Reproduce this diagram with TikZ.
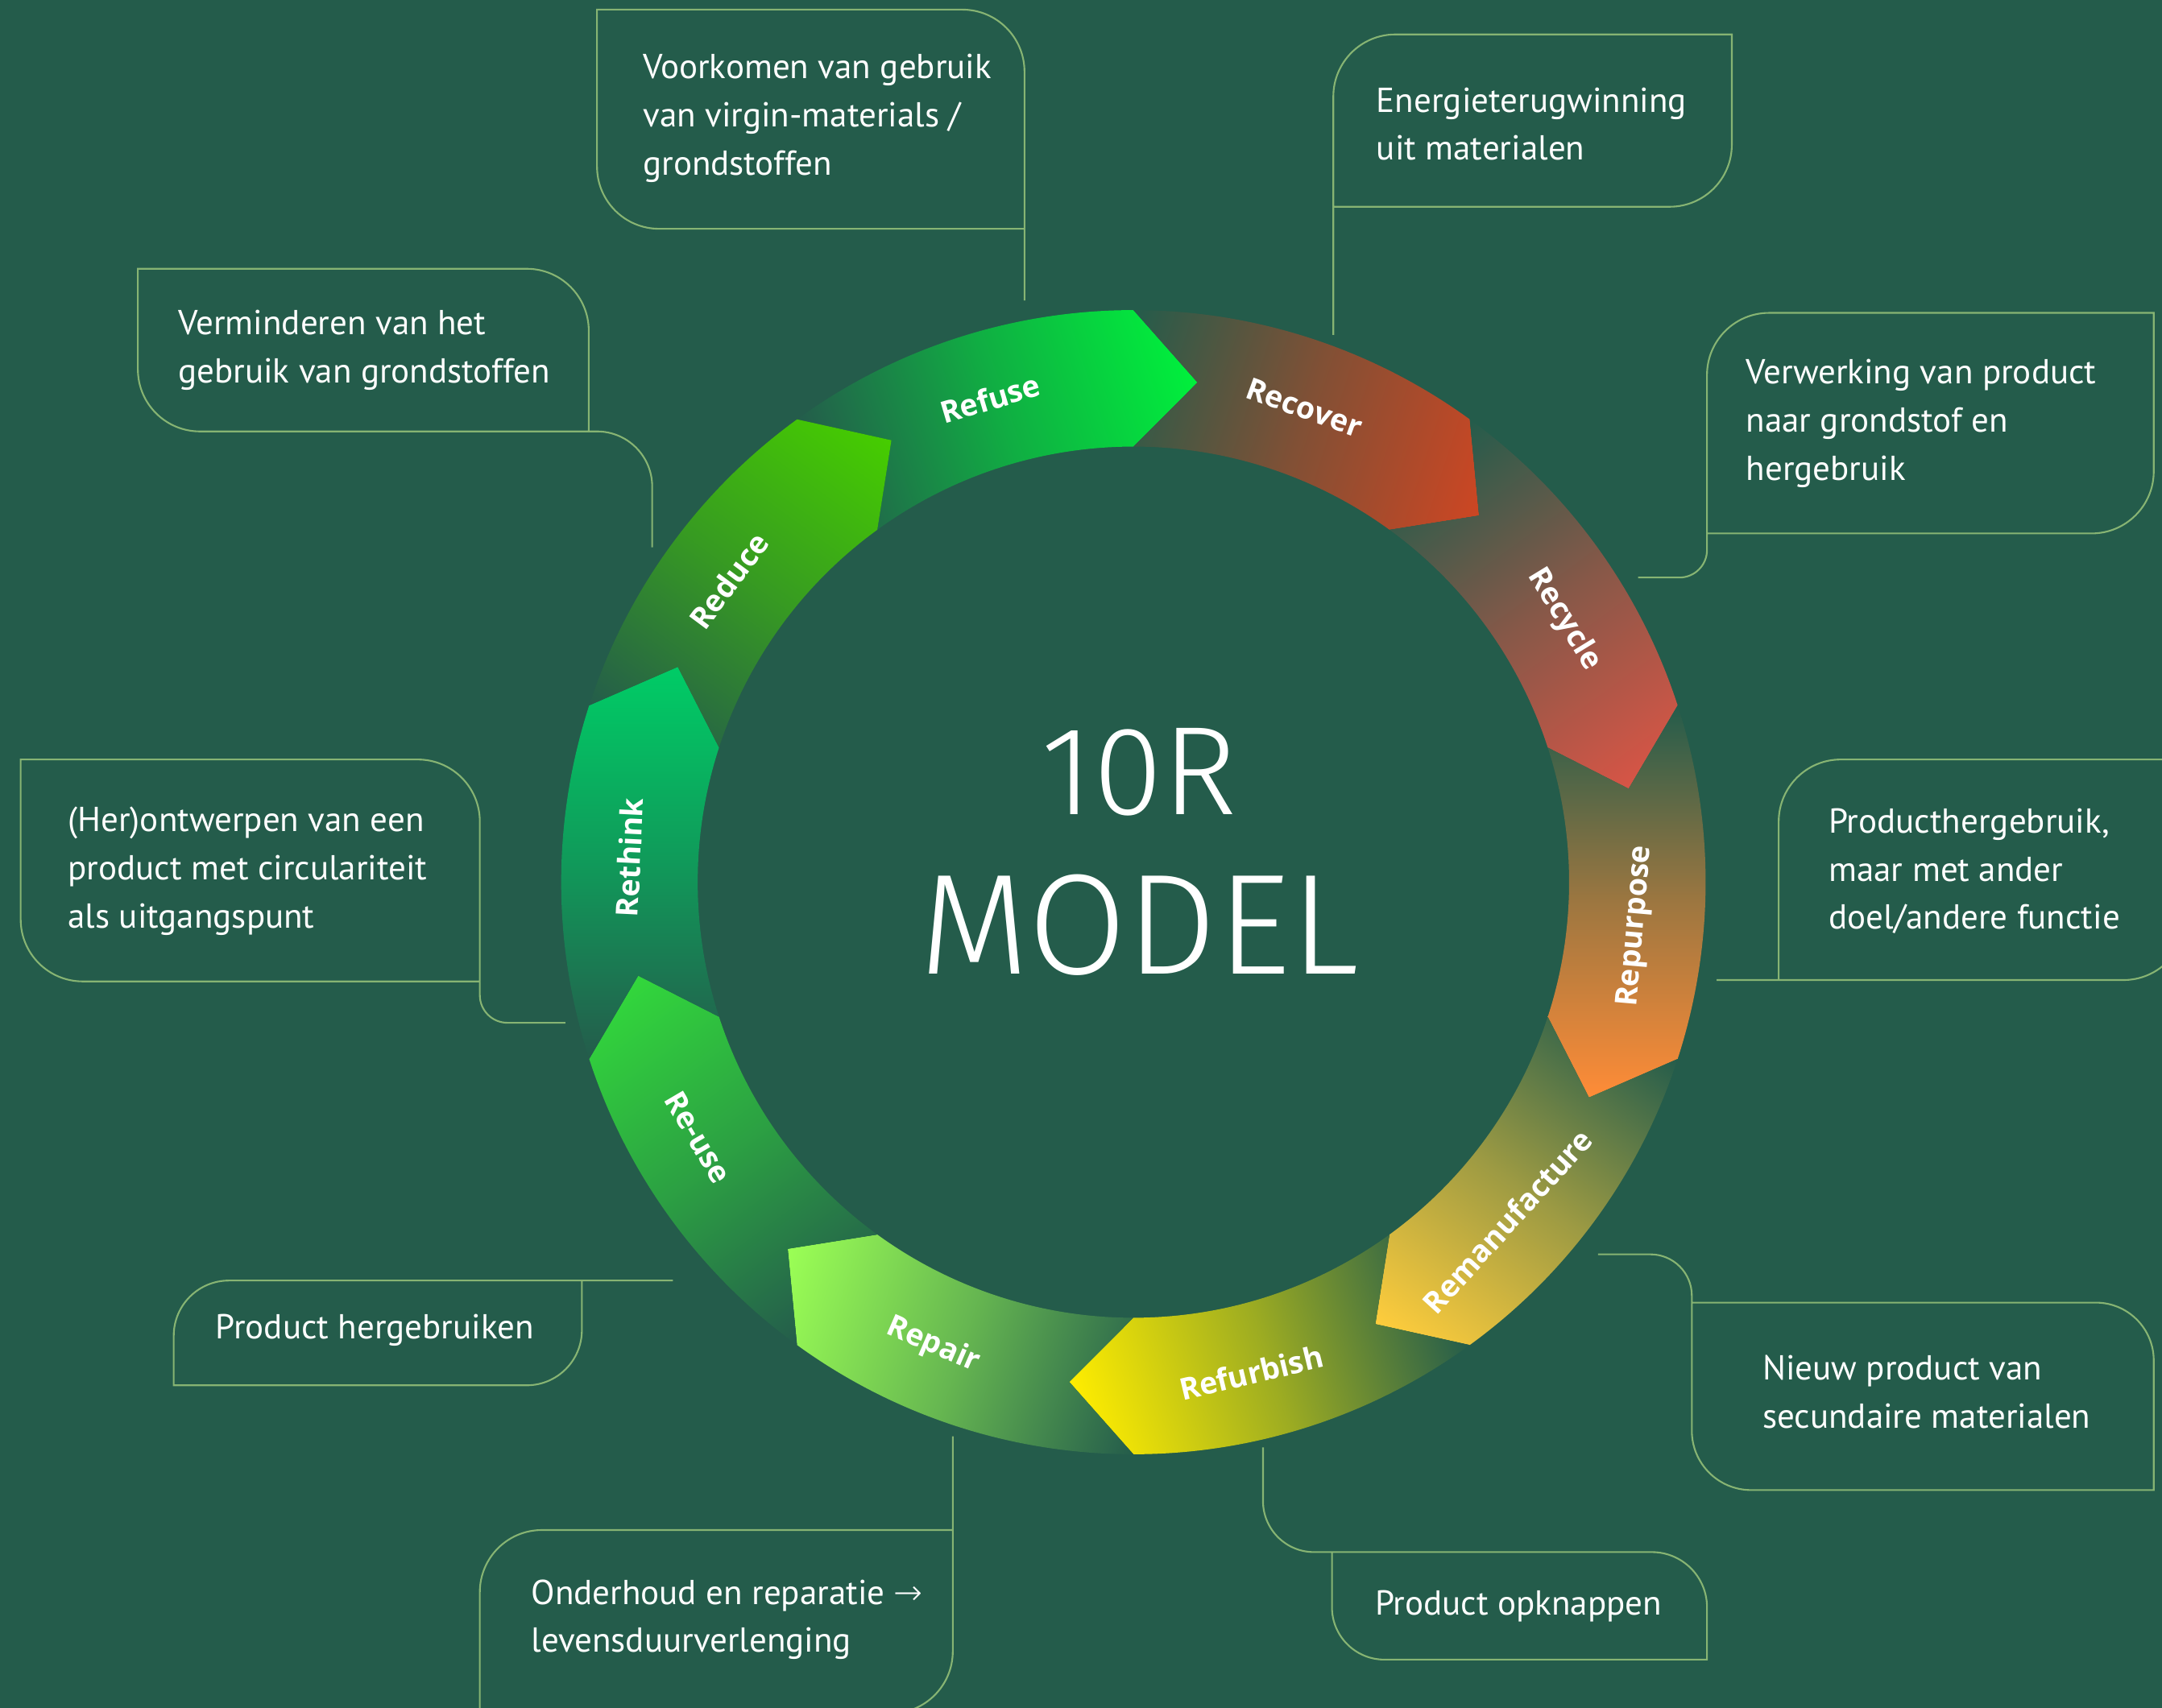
\documentclass[tikz,border=0pt]{standalone}
\usepackage{fontspec}
\usetikzlibrary{positioning}

\newfontfamily\descfont{PT Sans}
\newfontfamily\segfont{Open Sans}
\IfFontExistsTF{DejaVu Sans ExtraLight}{\newfontfamily\arrowfont{DejaVu Sans ExtraLight}}{\newfontfamily\arrowfont{DejaVu Sans}}
\IfFontExistsTF{Fira Sans Light}{\newfontfamily\titlefont{Fira Sans Light}}{\newfontfamily\titlefont{Fira Sans}}

\definecolor{bgdark}{RGB}{36,92,75}
\definecolor{leafline}{RGB}{135,180,115}
\definecolor{c-refuse}{RGB}{0,240,60}
\definecolor{c-recover}{RGB}{205,70,35}
\definecolor{c-recycle}{RGB}{215,85,70}
\definecolor{c-repurpose}{RGB}{255,140,55}
\definecolor{c-remanuf}{RGB}{255,205,60}
\definecolor{c-refurbish}{RGB}{255,237,0}
\definecolor{c-repair}{RGB}{155,255,85}
\definecolor{c-reuse}{RGB}{50,215,60}
\definecolor{c-rethink}{RGB}{0,204,102}
\definecolor{c-reduce}{RGB}{70,205,0}

\tikzset{
  leaf/.style={draw=leafline, line width=0.7pt},
  desc/.style={anchor=west, align=left, inner sep=0pt, text=white, font=\descfont\fontsize{14.3}{19.9}\selectfont},
  seglabel/.style={text=white, inner sep=0pt, font=\segfont\bfseries\fontsize{12.5}{15}\selectfont},
  bigtitle/.style={text=white, inner sep=0pt, font=\titlefont\fontsize{#1}{#1}\selectfont}
}

\begin{document}
\begin{tikzpicture}[x=0.2mm, y=0.2mm]
    \fill[bgdark] (0,0) rectangle (1568,1239);
    \useasboundingbox (0,0) rectangle (1568,1239);

    % ring of ten arrow segments, head at \hd degrees
    \foreach \hd/\col in {90/refuse, 54/recover, 18/recycle, -18/repurpose, -54/remanuf,
                          -90/refurbish, -126/repair, -162/reuse, 162/rethink, 126/reduce}{
        \shade[left color=bgdark, right color=c-\col, middle color=c-\col!55!bgdark,
               transform canvas={shift={(822,599)}, rotate=\hd-72}]
            (108:415) arc[start angle=108, end angle=72, radius=415]
            -- (64.7:365.5) -- (72:316)
            arc[start angle=72, end angle=108, radius=316]
            -- (100.7:365.5) -- cycle;
    }

    % segment labels
    \begin{scope}[shift={(822,599)}]
        \foreach \nm/\ang/\rot/\txt in {refuse/106.5/16.5/Refuse, recover/70.2/-19.8/Recover,
                recycle/31.4/-58.6/Recycle, repurpose/-5/85/Repurpose,
                remanuf/-42.2/47.8/Remanufacture, refurbish/-76.5/13.5/Refurbish,
                repair/-113.4/-23.4/Repair, reuse/-149.6/-59.6/Re-use,
                rethink/177.2/87.2/Rethink, reduce/143.3/53.3/Reduce}
            \node[seglabel, rotate=\rot] (l-\nm) at (\ang:366) {\txt};
    \end{scope}

    % centre title
    \node[bigtitle=52] (ten) at (826,679) {10R};
    \node[bigtitle=59, below=8.4mm of ten] (model) {MODEL};

    % description boxes with their lead lines
    \draw[leaf] (743,1021) -- (743,1187) arc[start angle=0, end angle=90, radius=45]
        -- (433,1232) -- (433,1118) arc[start angle=180, end angle=270, radius=45] -- (743,1073);
    \draw[leaf] (967,996) -- (967,1169) arc[start angle=180, end angle=90, radius=45]
        -- (1256,1214) -- (1256,1134) arc[start angle=0, end angle=-90, radius=45] -- (967,1089);
    \draw[leaf] (427,926) -- (427,999) arc[start angle=0, end angle=90, radius=45]
        -- (100,1044) -- (100,971) arc[start angle=180, end angle=270, radius=45]
        -- (433,926) arc[start angle=90, end angle=0, radius=40] -- (473,842);
    \draw[leaf] (1238,852) -- (1517,852) arc[start angle=-90, end angle=0, radius=45]
        -- (1562,1012) -- (1283,1012) arc[start angle=90, end angle=180, radius=45]
        -- (1238,840) arc[start angle=0, end angle=-90, radius=20] -- (1188,820);
    \draw[leaf] (348,527) -- (60,527) arc[start angle=270, end angle=180, radius=45]
        -- (15,688) -- (303,688) arc[start angle=90, end angle=0, radius=45]
        -- (348,517) arc[start angle=180, end angle=270, radius=20] -- (410,497);
    \draw[leaf] (1245,528) -- (1540,528) arc[start angle=-90, end angle=0, radius=45]
        -- (1585,688) -- (1335,688) arc[start angle=90, end angle=180, radius=45] -- (1290,528);
    \draw[leaf] (488,310) -- (166,310) arc[start angle=90, end angle=180, radius=40]
        -- (126,234) -- (382,234) arc[start angle=-90, end angle=0, radius=40] -- (422,310);
    \draw[leaf] (691,197) -- (691,41) arc[start angle=0, end angle=-90, radius=45]
        -- (348,-4) -- (348,84) arc[start angle=180, end angle=90, radius=45] -- (691,129);
    \draw[leaf] (916,189) -- (916,150) arc[start angle=180, end angle=270, radius=37]
        -- (1198,113) arc[start angle=90, end angle=0, radius=40]
        -- (1238,35) -- (1004,35) arc[start angle=270, end angle=180, radius=38] -- (966,113);
    \draw[leaf] (1159,329) -- (1197,329) arc[start angle=90, end angle=0, radius=30]
        -- (1227,201) arc[start angle=180, end angle=270, radius=43]
        -- (1562,158) -- (1562,252) arc[start angle=0, end angle=90, radius=42] -- (1227,294);

    % description texts
    \node[desc] (t-refuse) at (466,1153) {Voorkomen van gebruik\\van virgin-materials /\\grondstoffen};
    \node[desc] (t-recover) at (998,1149) {Energieterugwinning\\uit materialen};
    \node[desc] (t-reduce) at (129,985) {Verminderen van het\\gebruik van grondstoffen};
    \node[desc] (t-recycle) at (1266,932) {Verwerking van product\\naar grondstof en\\hergebruik};
    \node[desc] (t-rethink) at (49,607) {(Her)ontwerpen van een\\product met circulariteit\\als uitgangspunt};
    \node[desc] (t-repurpose) at (1326,607) {Producthergebruik,\\maar met ander\\doel/andere functie};
    \node[desc] (t-reuse) at (156,274) {Product hergebruiken};
    \node[desc] (t-repair) at (385,64) {Onderhoud en reparatie {\arrowfont →}\\levensduurverlenging};
    \node[desc] (t-refurbish) at (997,74) {Product opknappen};
    \node[desc] (t-remanuf) at (1278,229) {Nieuw product van\\secundaire materialen};
\end{tikzpicture}
\end{document}
